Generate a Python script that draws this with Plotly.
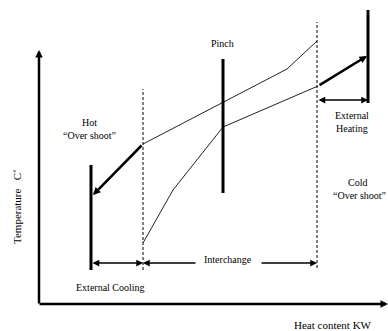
import plotly.graph_objects as go

# Composite curves (heat content, temperature) in arbitrary units
hot_x = [54, 104, 248, 278]
hot_y = [109, 160, 235, 263]
cold_x = [104, 134, 184, 279, 328]
cold_y = [61, 114, 177, 218, 248]

# Vertical markers: (x, y_bottom, y_top)
cooling_edge = (52, 34, 139)
dash_left = (104, 34, 215)
pinch = (184, 111, 245)
dash_right = (278, 36, 282)
heating_edge = (329, 201, 294)

# Horizontal range arrows
band_y = 41
heating_y = 204

font = dict(family="Liberation Serif, Times New Roman, serif", size=10, color="black")

fig = go.Figure()

# thin parts of composite curves
fig.add_trace(go.Scatter(x=hot_x[1:], y=hot_y[1:], mode="lines",
                         line=dict(color="#222", width=1), hoverinfo="skip"))
fig.add_trace(go.Scatter(x=cold_x[:-1], y=cold_y[:-1], mode="lines",
                         line=dict(color="#222", width=1), hoverinfo="skip"))

def vline(v, dash=None, width=1):
    x, y0, y1 = v
    fig.add_trace(go.Scatter(x=[x, x], y=[y0, y1], mode="lines",
                             line=dict(color="black", width=width, dash=dash), hoverinfo="skip"))

vline(dash_left, dash="3px,2px", width=1)
vline(dash_right, dash="3px,2px", width=1)
vline(pinch, width=3)
vline(cooling_edge, width=3)
vline(heating_edge, width=3)
vline(heating_edge, dash="2px,2px", width=1)

anns = []

def arrow(x, y, ax, ay, width=1.5, head=2, side="end", size=1.0):
    anns.append(dict(x=x, y=y, ax=ax, ay=ay, xref="x", yref="y", axref="x", ayref="y",
                     text="", showarrow=True, arrowhead=head, arrowwidth=width,
                     arrowsize=size, arrowcolor="black", arrowside=side,
                     startarrowhead=head, startarrowsize=size))

# axes
arrow(0, 254, 0, -1, width=2.5, head=2, size=0.6)
arrow(349, 0, -1, 0, width=2.5, head=2, size=0.6)

# thick overshoot arrows
arrow(hot_x[0], hot_y[0], hot_x[1], hot_y[1], width=2.5, head=2, size=0.6)
arrow(cold_x[-1], cold_y[-1], cold_x[-2], cold_y[-2], width=2.5, head=2, size=0.6)

# range arrows
arrow(dash_left[0], band_y, cooling_edge[0], band_y, width=1.5, head=2, side="end+start", size=0.9)
arrow(dash_left[0], band_y, 158, band_y, width=1.5, head=2, size=0.9)
arrow(dash_right[0], band_y, 221, band_y, width=1.5, head=2, size=0.9)
arrow(heating_edge[0], heating_y, dash_right[0], heating_y, width=1.5, head=2, side="end+start", size=0.9)

def text(x, y, t, angle=0, size=10):
    f = dict(font); f["size"] = size
    anns.append(dict(x=x, y=y, xref="x", yref="y", text=t, showarrow=False,
                     font=f, textangle=angle, xanchor="center", yanchor="middle"))

text(50, 182, "Hot")
text(50, 169, "\u201cOver shoot\u201d")
text(183, 261, "Pinch")
text(313, 189, "External")
text(313, 176, "Heating")
text(318, 122, "Cold")
text(320, 109, "\u201cOver shoot\u201d")
text(71, 17, "External Cooling")
text(189, 45, "Interchange")
text(294, -21, "Heat content KW", size=11)
text(-22, 97, "Temperature   C\u02da", angle=-90, size=11)

fig.update_layout(
    width=388, height=331, margin=dict(l=0, r=0, t=0, b=0),
    paper_bgcolor="white", plot_bgcolor="white", showlegend=False,
    xaxis=dict(range=[-39, 349], visible=False, fixedrange=True),
    yaxis=dict(range=[-27, 304], visible=False, fixedrange=True),
    annotations=anns,
)

fig.write_html("out.html", config=dict(displayModeBar=False),
               post_script="document.body.style.margin='0';document.body.style.overflow='hidden';")
